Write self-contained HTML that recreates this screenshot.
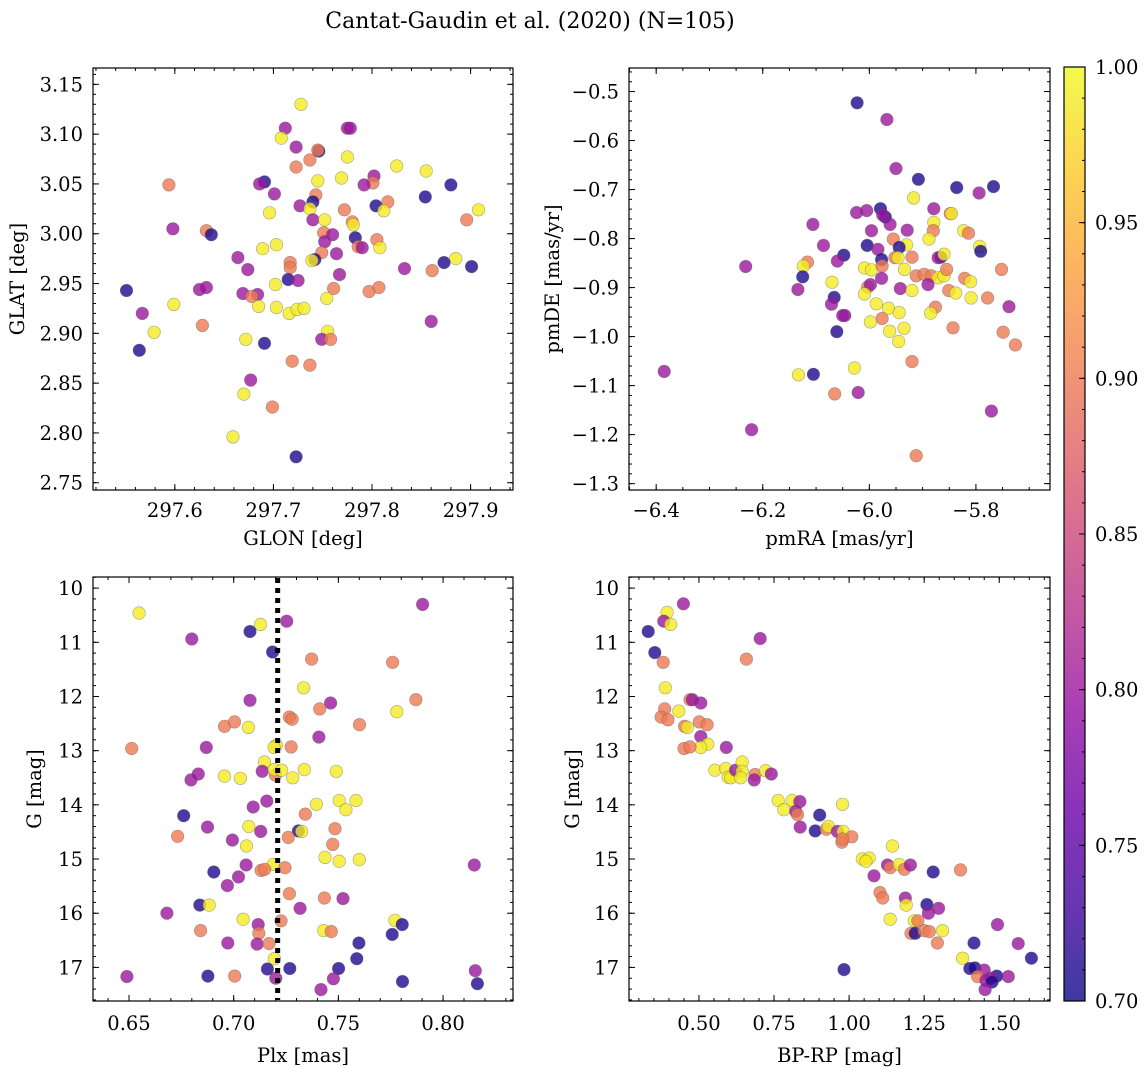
<!DOCTYPE html>
<html><head><meta charset="utf-8"><style>
html,body{margin:0;padding:0;background:#fff;}
svg{display:block;font-family:"DejaVu Serif","Liberation Serif",serif;}
</style></head><body>
<svg id="fig" width="1148" height="1067" viewBox="0 0 1148 1067" xmlns="http://www.w3.org/2000/svg">
<defs>
<linearGradient id="plasmaGrad" x1="0" y1="1" x2="0" y2="0">
<stop offset="0" stop-color="#0d0887" stop-opacity="0.8"/><stop offset="0.1" stop-color="#41049d" stop-opacity="0.8"/><stop offset="0.2" stop-color="#6a00a8" stop-opacity="0.8"/><stop offset="0.3" stop-color="#8f0da4" stop-opacity="0.8"/><stop offset="0.4" stop-color="#b12a90" stop-opacity="0.8"/><stop offset="0.5" stop-color="#cc4778" stop-opacity="0.8"/><stop offset="0.6" stop-color="#e16462" stop-opacity="0.8"/><stop offset="0.7" stop-color="#f2844b" stop-opacity="0.8"/><stop offset="0.8" stop-color="#fca636" stop-opacity="0.8"/><stop offset="0.9" stop-color="#fcce25" stop-opacity="0.8"/><stop offset="1" stop-color="#f0f921" stop-opacity="0.8"/>
</linearGradient>
</defs>
<text x="530" y="28" text-anchor="middle" font-size="22">Cantat-Gaudin et al. (2020) (N=105)</text>
</svg>
<script>
// ---- Panel 1: GLON / GLAT ----
const p1Glon=[297.728,297.712,297.708,297.723,297.746,297.745,297.775,297.778,297.775,297.737,297.723,297.825,297.855,297.745,297.769,297.691,297.686,297.594,297.802,297.801,297.792,297.880,297.854,297.701,297.743,297.740,297.727,297.737,297.804,297.816,297.812,297.696,297.772,297.908,297.896,297.740,297.752,297.780,297.781,297.598,297.632,297.637,297.751,297.760,297.752,297.783,297.786,297.790,297.805,297.808,297.703,297.689,297.664,297.749,297.764,297.742,297.739,297.885,297.873,297.901,297.717,297.717,297.674,297.833,297.861,297.767,297.715,297.725,297.702,297.551,297.625,297.632,297.669,297.684,297.678,297.761,297.797,297.807,297.754,297.599,297.685,297.703,297.716,297.724,297.731,297.567,297.860,297.579,297.628,297.755,297.749,297.758,297.672,297.691,297.564,297.719,297.737,297.677,297.670,297.699,297.659,297.723];
const p1Glat=[3.130,3.106,3.096,3.087,3.083,3.084,3.106,3.106,3.077,3.074,3.067,3.068,3.063,3.053,3.056,3.052,3.050,3.049,3.058,3.051,3.049,3.049,3.037,3.040,3.039,3.032,3.028,3.025,3.028,3.032,3.023,3.021,3.024,3.024,3.014,3.014,3.014,3.012,3.009,3.005,3.003,2.999,3.001,2.999,2.992,2.996,2.987,2.986,2.994,2.986,2.989,2.985,2.976,2.981,2.980,2.974,2.973,2.975,2.971,2.967,2.971,2.966,2.964,2.965,2.963,2.959,2.954,2.953,2.949,2.943,2.944,2.946,2.940,2.939,2.937,2.945,2.942,2.946,2.935,2.929,2.927,2.926,2.920,2.924,2.925,2.920,2.912,2.901,2.908,2.902,2.894,2.894,2.894,2.890,2.883,2.872,2.868,2.853,2.839,2.826,2.796,2.776];
const p1Prob=[0.99,0.80,0.99,0.80,0.71,0.90,0.80,0.80,0.99,0.90,0.90,0.99,0.99,0.99,0.99,0.71,0.80,0.90,0.80,0.90,0.80,0.71,0.71,0.80,0.90,0.71,0.80,0.99,0.71,0.90,0.99,0.99,0.90,0.99,0.90,0.80,0.99,0.90,0.99,0.80,0.90,0.71,0.90,0.80,0.80,0.71,0.90,0.80,0.90,0.99,0.99,0.99,0.80,0.90,0.80,0.71,0.99,0.99,0.71,0.71,0.90,0.90,0.80,0.80,0.90,0.80,0.71,0.80,0.99,0.71,0.80,0.80,0.80,0.80,0.90,0.90,0.90,0.90,0.99,0.99,0.99,0.99,0.99,0.99,0.99,0.80,0.80,0.99,0.90,0.99,0.80,0.90,0.99,0.71,0.71,0.90,0.90,0.80,0.99,0.90,0.99,0.71];
const p1XTicks=[297.6,297.7,297.8,297.9];
const p1YTicks=[2.75,2.80,2.85,2.90,2.95,3.00,3.05,3.10,3.15];

// ---- Panel 2: pmRA / pmDE ----
const p2PmRA=[-6.023,-5.967,-5.950,-5.908,-5.836,-5.767,-5.794,-5.917,-5.879,-5.848,-5.846,-5.979,-5.970,-5.975,-6.024,-6.005,-5.961,-6.106,-5.879,-5.880,-5.996,-5.929,-5.823,-5.814,-5.888,-5.955,-6.086,-6.004,-5.930,-5.944,-5.793,-5.791,-5.984,-6.048,-6.060,-5.977,-5.952,-5.946,-5.920,-5.866,-5.871,-5.860,-6.116,-6.124,-6.232,-6.125,-6.009,-5.996,-5.976,-5.934,-5.912,-5.897,-5.884,-5.871,-5.860,-5.855,-5.821,-5.810,-5.752,-6.070,-5.977,-6.134,-6.003,-5.998,-5.942,-5.920,-5.890,-5.851,-5.838,-5.809,-5.778,-6.009,-6.066,-6.071,-5.987,-5.964,-5.876,-5.885,-5.738,-5.944,-6.046,-6.050,-5.976,-5.998,-5.843,-6.061,-5.962,-5.935,-5.749,-5.945,-5.726,-5.920,-6.028,-6.385,-6.133,-6.105,-6.065,-6.021,-5.771,-6.221,-5.912];
const p2PmDE=[-0.523,-0.557,-0.657,-0.679,-0.696,-0.694,-0.707,-0.717,-0.739,-0.749,-0.749,-0.739,-0.756,-0.752,-0.747,-0.743,-0.771,-0.771,-0.767,-0.784,-0.784,-0.783,-0.784,-0.789,-0.801,-0.801,-0.814,-0.814,-0.813,-0.818,-0.816,-0.826,-0.822,-0.834,-0.846,-0.843,-0.839,-0.839,-0.838,-0.838,-0.839,-0.832,-0.848,-0.856,-0.857,-0.878,-0.860,-0.864,-0.856,-0.863,-0.876,-0.873,-0.876,-0.880,-0.876,-0.863,-0.881,-0.888,-0.863,-0.889,-0.881,-0.904,-0.899,-0.894,-0.902,-0.906,-0.894,-0.906,-0.911,-0.921,-0.921,-0.913,-0.920,-0.934,-0.933,-0.942,-0.940,-0.952,-0.939,-0.951,-0.957,-0.957,-0.963,-0.970,-0.982,-0.990,-0.989,-0.983,-0.991,-1.010,-1.017,-1.051,-1.064,-1.071,-1.078,-1.077,-1.117,-1.114,-1.152,-1.190,-1.243];
const p2Prob=[0.71,0.80,0.80,0.71,0.71,0.71,0.80,0.99,0.80,0.90,0.99,0.71,0.71,0.80,0.80,0.80,0.80,0.80,0.99,0.90,0.80,0.80,0.99,0.90,0.99,0.90,0.80,0.71,0.99,0.71,0.99,0.71,0.80,0.71,0.80,0.71,0.90,0.99,0.90,0.71,0.80,0.99,0.90,0.99,0.80,0.71,0.99,0.99,0.90,0.99,0.90,0.90,0.90,0.99,0.99,0.90,0.90,0.99,0.90,0.99,0.80,0.80,0.90,0.80,0.80,0.99,0.80,0.90,0.99,0.99,0.90,0.99,0.71,0.80,0.99,0.99,0.90,0.99,0.80,0.99,0.80,0.80,0.90,0.99,0.90,0.71,0.99,0.99,0.90,0.99,0.90,0.90,0.99,0.80,0.99,0.71,0.90,0.80,0.80,0.80,0.90];
const p2XTicks=[-6.4,-6.2,-6.0,-5.8];
const p2YTicks=[-1.3,-1.2,-1.1,-1.0,-0.9,-0.8,-0.7,-0.6,-0.5];

// ---- Panel 3: Plx / G ----
const p3Plx=[0.6548,0.7902,0.7128,0.7253,0.7078,0.6800,0.7186,0.7372,0.7759,0.7334,0.7078,0.7463,0.7870,0.7411,0.7779,0.7266,0.7279,0.6956,0.7004,0.7070,0.7601,0.6513,0.6869,0.7407,0.7204,0.7193,0.7274,0.7147,0.6831,0.6796,0.6956,0.7032,0.7136,0.7199,0.7194,0.7229,0.7282,0.7337,0.7490,0.7158,0.7093,0.7395,0.7504,0.7536,0.7584,0.7342,0.6761,0.6875,0.7072,0.7129,0.7309,0.7325,0.7484,0.6732,0.6994,0.7261,0.7061,0.7473,0.7436,0.7504,0.7600,0.8149,0.7059,0.7188,0.7131,0.7148,0.7245,0.6905,0.7023,0.6970,0.7266,0.7433,0.7522,0.6838,0.6883,0.7317,0.6681,0.7045,0.7226,0.7117,0.7770,0.7805,0.6842,0.7120,0.7430,0.7466,0.7757,0.6972,0.7112,0.7169,0.7598,0.7194,0.7588,0.7161,0.7268,0.7501,0.8154,0.6490,0.6877,0.7005,0.7201,0.7476,0.7806,0.8164,0.7417];
const p3G=[10.46,10.30,10.67,10.61,10.80,10.94,11.18,11.31,11.37,11.84,12.07,12.12,12.06,12.23,12.28,12.38,12.42,12.55,12.47,12.57,12.52,12.96,12.94,12.75,12.90,12.94,12.93,13.21,13.43,13.54,13.47,13.51,13.38,13.45,13.35,13.36,13.50,13.35,13.38,13.93,14.04,13.99,13.92,14.09,13.92,14.17,14.20,14.41,14.40,14.49,14.48,14.49,14.44,14.58,14.65,14.60,14.76,14.73,14.97,15.04,15.01,15.11,15.11,15.10,15.21,15.19,15.16,15.24,15.33,15.49,15.64,15.72,15.73,15.85,15.85,15.91,16.00,16.11,16.14,16.21,16.13,16.21,16.32,16.37,16.32,16.34,16.39,16.55,16.57,16.56,16.55,16.84,16.84,17.03,17.02,17.02,17.06,17.17,17.16,17.16,17.20,17.21,17.26,17.30,17.41];
const p3Prob=[0.99,0.80,0.99,0.80,0.71,0.80,0.71,0.90,0.90,0.99,0.80,0.80,0.90,0.90,0.99,0.90,0.90,0.90,0.90,0.99,0.90,0.90,0.80,0.80,0.99,0.99,0.90,0.99,0.80,0.80,0.99,0.99,0.80,0.90,0.99,0.99,0.99,0.99,0.99,0.80,0.80,0.99,0.99,0.99,0.99,0.90,0.71,0.80,0.99,0.80,0.71,0.99,0.90,0.90,0.80,0.90,0.99,0.90,0.99,0.99,0.99,0.80,0.80,0.99,0.90,0.90,0.90,0.71,0.80,0.80,0.90,0.90,0.80,0.71,0.99,0.80,0.80,0.99,0.90,0.80,0.99,0.71,0.90,0.90,0.99,0.90,0.71,0.80,0.80,0.90,0.71,0.99,0.71,0.71,0.71,0.71,0.80,0.80,0.71,0.90,0.80,0.80,0.71,0.71,0.80];
const p3XTicks=[0.65,0.70,0.75,0.80];
const p3YTicks=[10,11,12,13,14,15,16,17];
const p3RefPlx=[0.721];

// ---- Panel 4: BP-RP / G ----
const p4BpRp=[0.448,0.394,0.383,0.406,0.331,0.704,0.353,0.381,0.658,0.388,0.470,0.478,0.506,0.386,0.433,0.374,0.397,0.452,0.461,0.501,0.527,0.506,0.529,0.506,0.450,0.470,0.591,0.553,0.589,0.597,0.606,0.622,0.644,0.644,0.639,0.687,0.684,0.722,0.741,0.764,0.810,0.836,0.783,0.822,0.828,0.978,0.902,0.837,0.887,0.924,0.931,0.961,0.980,0.976,1.009,0.978,1.144,1.044,1.067,1.056,1.128,1.137,1.167,1.184,1.204,1.280,1.371,1.083,1.103,1.112,1.187,1.190,1.259,1.264,1.298,1.137,1.217,1.229,1.206,1.220,1.250,1.267,1.311,1.294,1.494,1.416,1.563,1.378,1.607,0.983,1.402,1.419,1.450,1.428,1.492,1.472,1.456,1.476,1.530,1.453];
const p4G=[10.29,10.45,10.61,10.67,10.80,10.93,11.19,11.37,11.31,11.84,12.06,12.06,12.12,12.23,12.27,12.38,12.43,12.55,12.57,12.47,12.52,12.74,12.88,12.94,12.96,12.93,12.94,13.36,13.33,13.49,13.50,13.36,13.21,13.38,13.50,13.44,13.54,13.37,13.43,13.92,13.92,13.94,14.09,14.12,14.18,13.99,14.19,14.41,14.48,14.45,14.40,14.49,14.49,14.69,14.59,14.63,14.76,15.00,14.98,15.04,15.11,15.16,15.10,15.19,15.11,15.24,15.20,15.31,15.62,15.72,15.72,15.85,15.84,16.00,15.91,16.11,16.14,16.14,16.37,16.37,16.32,16.34,16.32,16.55,16.21,16.55,16.56,16.83,16.83,17.04,17.02,17.01,17.05,17.17,17.16,17.20,17.24,17.27,17.17,17.41];
const p4Prob=[0.80,0.99,0.80,0.99,0.71,0.80,0.71,0.90,0.90,0.99,0.90,0.80,0.80,0.90,0.99,0.90,0.90,0.90,0.99,0.90,0.90,0.80,0.99,0.99,0.90,0.90,0.80,0.99,0.99,0.99,0.99,0.80,0.99,0.99,0.99,0.90,0.80,0.99,0.80,0.99,0.99,0.80,0.99,0.80,0.90,0.99,0.71,0.80,0.71,0.90,0.99,0.80,0.99,0.90,0.90,0.90,0.99,0.99,0.99,0.99,0.80,0.90,0.99,0.90,0.80,0.71,0.90,0.80,0.90,0.90,0.80,0.99,0.71,0.80,0.80,0.99,0.99,0.90,0.90,0.71,0.90,0.90,0.99,0.90,0.80,0.71,0.80,0.99,0.71,0.71,0.71,0.71,0.80,0.90,0.71,0.80,0.80,0.71,0.80,0.80];
const p4XTicks=[0.50,0.75,1.00,1.25,1.50];
const p4YTicks=[10,11,12,13,14,15,16,17];

const cbTicks=[0.70,0.75,0.80,0.85,0.90,0.95,1.00];

const NS='http://www.w3.org/2000/svg';
const svg=document.getElementById('fig');
function mk(tag,attrs,parent){const e=document.createElementNS(NS,tag);for(const k in attrs)e.setAttribute(k,attrs[k]);(parent||svg).appendChild(e);return e;}
const PL=['#0d0887','#41049d','#6a00a8','#8f0da4','#b12a90','#cc4778','#e16462','#f2844b','#fca636','#fcce25','#f0f921'];
function hx(h){return [parseInt(h.slice(1,3),16),parseInt(h.slice(3,5),16),parseInt(h.slice(5,7),16)];}
function plasma(v){let t=(v-0.70)/0.30;t=Math.max(0,Math.min(1,t));const s=t*10;const i=Math.min(9,Math.floor(s));const f=s-i;const a=hx(PL[i]),b=hx(PL[i+1]);return 'rgb('+a.map((c,k)=>Math.round(c+(b[k]-c)*f)).join(',')+')';}

const TICKFS=19.5, LABFS=19.5;
function panel(name,box,xd,yd,xTicks,xMinor,yTicks,yMinor,xs,ys,cs,xfmt,yfmt,xlabel,ylabel,ylabX,tOff,lOff){
  const g=mk('g',{});
  
  
  const sx=v=>box.x0+(v-xd[0])/(xd[1]-xd[0])*(box.x1-box.x0);
  const sy=v=>box.y0+(v-yd[0])/(yd[1]-yd[0])*(box.y1-box.y0);
  const pts=mk('g',{},g);
  
  
  for(let i=0;i<xs.length;i++){
    const c=mk('circle',{cx:sx(xs[i]).toFixed(1),cy:sy(ys[i]).toFixed(1),r:6.3,fill:plasma(cs[i]),'fill-opacity':0.8,stroke:'#555','stroke-opacity':0.5,'stroke-width':0.6},pts);
    
    
  }
  const ax=mk('g',{stroke:'#000','stroke-width':1},g);
  
  
  const xmin=Math.min(xd[0],xd[1]),xmax=Math.max(xd[0],xd[1]),ymin=Math.min(yd[0],yd[1]),ymax=Math.max(yd[0],yd[1]);
  for(let v=Math.ceil(xmin/xMinor-1e-6)*xMinor;v<=xmax+1e-9;v+=xMinor){const X=sx(v);mk('line',{x1:X,x2:X,y1:box.y1,y2:box.y1-3},ax);mk('line',{x1:X,x2:X,y1:box.y0,y2:box.y0+3},ax);}
  for(let v=Math.ceil(ymin/yMinor-1e-6)*yMinor;v<=ymax+1e-9;v+=yMinor){const Y=sy(v);mk('line',{x1:box.x0,x2:box.x0+3,y1:Y,y2:Y},ax);mk('line',{x1:box.x1,x2:box.x1-3,y1:Y,y2:Y},ax);}
  xTicks.forEach(v=>{const X=sx(v);mk('line',{x1:X,x2:X,y1:box.y1,y2:box.y1-6},ax);mk('line',{x1:X,x2:X,y1:box.y0,y2:box.y0+6},ax);
    const t=mk('text',{x:X,y:box.y1+tOff,'text-anchor':'middle','font-size':TICKFS,fill:'#000'},g);t.textContent=xfmt(v);
    
    });
  yTicks.forEach(v=>{const Y=sy(v);mk('line',{x1:box.x0,x2:box.x0+6,y1:Y,y2:Y},ax);mk('line',{x1:box.x1,x2:box.x1-6,y1:Y,y2:Y},ax);
    const t=mk('text',{x:box.x0-10,y:Y+7,'text-anchor':'end','font-size':TICKFS,fill:'#000'},g);t.textContent=yfmt(v);
    
    });
  mk('rect',{x:box.x0,y:box.y0,width:box.x1-box.x0,height:box.y1-box.y0,fill:'none',stroke:'#000','stroke-width':1.2},ax);
  const xl=mk('text',{x:(box.x0+box.x1)/2,y:box.y1+lOff,'text-anchor':'middle','font-size':LABFS},g);xl.textContent=xlabel;
  
  
  const cy=(box.y0+box.y1)/2;
  const yl=mk('text',{x:ylabX,y:cy,'text-anchor':'middle','font-size':LABFS,transform:'rotate(-90 '+ylabX+' '+cy+')'},g);yl.textContent=ylabel;
  
  
  return {sx,sy,g};
}
const f1=v=>v.toFixed(1),f2=v=>v.toFixed(2),f0=v=>v.toFixed(0);
const fm=v=>(v<0?'\u2212':'')+Math.abs(v).toFixed(1);
panel('glon-glat',{x0:93,y0:68,x1:513,y1:490},[297.517,297.943],[3.1664,2.7427],p1XTicks,0.02,p1YTicks,0.01,p1Glon,p1Glat,p1Prob,f1,f2,'GLON [deg]','GLAT [deg]',24,27,55);
panel('pm',{x0:629,y0:68,x1:1050,y1:490},[-6.451,-5.661],[-0.452,-1.313],p2XTicks,0.05,p2YTicks,0.02,p2PmRA,p2PmDE,p2Prob,fm,fm,'pmRA [mas/yr]','pmDE [mas/yr]',559,27,55);
const P3=panel('plx-g',{x0:93,y0:577,x1:513,y1:1001},[0.6328,0.8334],[9.795,17.62],p3XTicks,0.01,p3YTicks,0.2,p3Plx,p3G,p3Prob,f2,f0,'Plx [mas]','G [mag]',41,29,61);
p3RefPlx.forEach(v=>{const X=P3.sx(v);const l=mk('line',{x1:X,x2:X,y1:578,y2:1000,stroke:'#000','stroke-width':5,'stroke-dasharray':'5 5'},P3.g);
  
  });
panel('cmd',{x0:629,y0:577,x1:1050,y1:1001},[0.267,1.669],[9.795,17.62],p4XTicks,0.05,p4YTicks,0.2,p4BpRp,p4G,p4Prob,f2,f0,'BP-RP [mag]','G [mag]',579,29,61);

// colorbar
const cb=mk('g',{});


const cbBox={x0:1064,x1:1085,y0:67,y1:1001};
const cy=v=>cbBox.y1-(v-0.70)/0.30*(cbBox.y1-cbBox.y0);
mk('rect',{x:cbBox.x0,y:cbBox.y0,width:21,height:cbBox.y1-cbBox.y0,fill:'url(#plasmaGrad)',stroke:'#000','stroke-width':1.2},cb);
for(let v=0.70;v<=1.0001;v+=0.01){const Y=cy(v);mk('line',{x1:cbBox.x1,x2:cbBox.x1-3,y1:Y,y2:Y,stroke:'#000'},cb);}
cbTicks.forEach(v=>{const Y=cy(v);mk('line',{x1:cbBox.x1,x2:cbBox.x1-6,y1:Y,y2:Y,stroke:'#000'},cb);
  const t=mk('text',{x:1095,y:Y+7,'font-size':TICKFS},cb);t.textContent=v.toFixed(2);
  
  });
</script>
</body></html>
